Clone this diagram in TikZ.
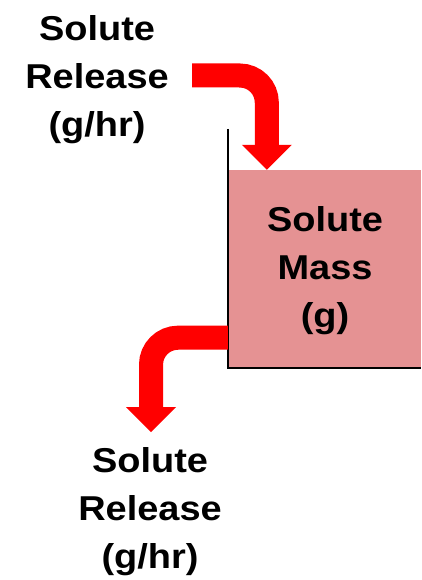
\documentclass[tikz,border=0pt]{standalone}
\usepackage{fontspec}
\setmainfont{Liberation Sans}[FakeStretch=1.1]
\usetikzlibrary{arrows.meta}

\definecolor{flowred}{RGB}{255,0,0}
\definecolor{masspink}{RGB}{229,146,147}

\begin{document}
\begin{tikzpicture}[x=1pt,y=-1pt,
    label/.style={
% The text:
align=center, font=\bfseries\fontsize{34.5}{48}\selectfont,
inner sep=0pt,
},
    massbox/.style={
% The shape:
rectangle,
% The size:
minimum width=193pt,
minimum height=198pt,
% The fill:
fill=masspink, inner sep=0pt,
},
    flow/.style={
line width=24pt, draw=flowred, rounded corners=27pt,
-{Triangle[width=50pt,length=25pt,line width=0pt]},
},
]
  \useasboundingbox (0,0) rectangle (421,580);
  \node[massbox] (mass) at (324.5, 269) {};
  \node[label] (masstext) at (325, 271) {Solute\\Mass\\(g)};
  \node[label] (in) at (97, 80) {Solute\\Release\\(g/hr)};
  \node[label] (out) at (150, 512) {Solute\\Release\\(g/hr)};
  \draw[line width=1.5pt] ([yshift=41pt]mass.north west) -- (mass.south west) -- (mass.south east);
  \coordinate (inflow) at (192, 75.5);
  \coordinate (intip) at ([xshift=39pt]mass.north west);
  \coordinate (outflow) at ([yshift=30.5pt]mass.south west);
  \coordinate (outtip) at (151, 432);
  \draw[flow] (inflow) -| (intip);
  \draw[flow] (outflow) -| (outtip);

\end{tikzpicture}
\end{document}
